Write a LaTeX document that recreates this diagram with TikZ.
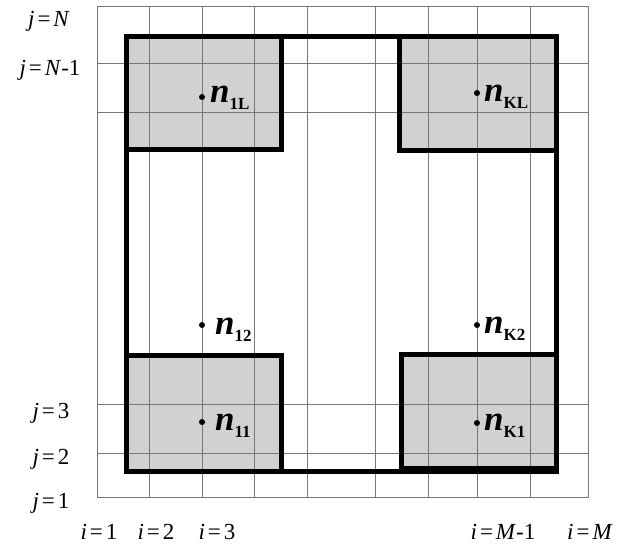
\documentclass[tikz,border=0pt]{standalone}
\usepackage{fontspec}
\setmainfont{Liberation Serif}
\usepackage{tikz}
\usetikzlibrary{positioning}
\definecolor{cellgray}{RGB}{209,209,209}
\definecolor{gridgray}{RGB}{120,120,120}
\newcommand{\eqs}{\kern0.13em=\kern0.13em}
\newcommand{\nlbl}[1]{{\fontsize{35}{35}\selectfont\bfseries\itshape n}\raisebox{-7pt}{\fontsize{17}{17}\selectfont\bfseries #1}}

\begin{document}
\begin{tikzpicture}[x=1pt, y=-1pt,
  gridline/.style={gridgray, line width=0.8pt},
  wall/.style={draw, line width=5pt, line join=miter},
  cell/.style={fill=cellgray},
  pt/.style={circle, fill, inner sep=0pt, minimum size=6pt},
  nlab/.style={anchor=base west, inner sep=0pt},
  ilab/.style={anchor=base, inner sep=0pt, font=\fontsize{23}{27}\selectfont}
]
\useasboundingbox (0,0) rectangle (626,546);
\fill[white] (0,0) rectangle (626,546);

% ======= Shaded corner blocks =======
\fill[cell] (126,36.5)  rectangle (281.5,149.5);
\fill[cell] (399.5,36.5) rectangle (556.5,150.5);
\fill[cell] (126,355)   rectangle (281.5,471.5);
\fill[cell] (401,354)   rectangle (556.5,471.5);

% ======= Grid =======
\draw[gridline] (97,6) rectangle (588,497);
\draw[gridline] (149,6) -- (149,497)  (202,6) -- (202,497)
                (254,6) -- (254,497)  (307,6) -- (307,497)
                (375,6) -- (375,497)  (428,6) -- (428,497)
                (477,6) -- (477,497)  (530,6) -- (530,497);
\draw[gridline] (97,63) -- (588,63)   (97,112) -- (588,112)
                (97,404) -- (588,404) (97,453) -- (588,453);

% ======= Walls =======
\draw[wall] (126,36.5)   rectangle (556.5,471.5);
\draw[wall] (126,36.5)   rectangle (281.5,149.5);
\draw[wall] (399.5,36.5) rectangle (556.5,150.5);
\draw[wall] (126,355)    rectangle (281.5,471.5);
\draw[wall] (401,354)    rectangle (556.5,471.5);
\draw[wall, line width=8pt] (398.5,470) -- (559,470);

% ======= Nodes =======
\node[pt] (p1L) at (202,97)  {};
\node[pt] (p12) at (202,325) {};
\node[pt] (p11) at (202,422) {};
\node[pt] (pKL) at (477,93)  {};
\node[pt] (pK2) at (477,325) {};
\node[pt] (pK1) at (477,423) {};

\node[nlab] (n1L) at (210,102) {\nlbl{1L}};
\node[nlab] (n12) at (215,334) {\nlbl{12}};
\node[nlab] (n11) at (215,430) {\nlbl{11}};
\node[nlab] (nKL) at (484,101) {\nlbl{KL}};
\node[nlab] (nK2) at (484,333) {\nlbl{K2}};
\node[nlab] (nK1) at (484,430) {\nlbl{K1}};

% ======= Index labels =======
\node[ilab] (jN)  at (49,27)  {\textit{j}\eqs\textit{N}};
\node[ilab] (jN1) at (50,75)  {\textit{j}\eqs\textit{N}-1};
\node[ilab] (j3)  at (51,418) {\textit{j}\eqs 3};
\node[ilab] (j2)  at (51,464) {\textit{j}\eqs 2};
\node[ilab] (j1)  at (51,508) {\textit{j}\eqs 1};

\node[ilab] (i1)  at (99,539)  {\textit{i}\eqs 1};
\node[ilab] (i2)  at (156,539) {\textit{i}\eqs 2};
\node[ilab] (i3)  at (217,539) {\textit{i}\eqs 3};
\node[ilab] (iM1) at (503,539) {\textit{i}\eqs\textit{M}-1};
\node[ilab] (iM)  at (590,539) {\textit{i}\eqs\textit{M}};

\end{tikzpicture}
\end{document}
